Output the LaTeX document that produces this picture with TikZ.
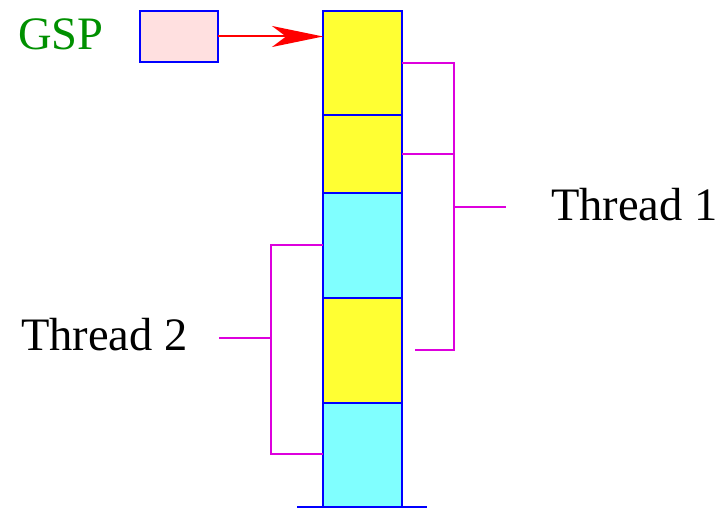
\documentclass[tikz,border=0pt]{standalone}
\usepackage{fontspec}
\setmainfont{Liberation Serif}
\usetikzlibrary{arrows.meta}
\definecolor{yel}{RGB}{255,255,51}
\definecolor{cya}{RGB}{128,255,255}
\definecolor{pnk}{RGB}{255,224,224}
\definecolor{mag}{RGB}{221,0,221}
\definecolor{grn}{RGB}{0,144,0}
\tikzset{
  cell/.style={draw=blue, line width=2pt, minimum width=79pt, inner sep=0pt, outer sep=0pt},
  brk/.style={draw=mag, line width=2pt},
  lbl/.style={font=\fontsize{46.5}{50}\selectfont, inner sep=0pt, anchor=base west},
}
\begin{document}
\begin{tikzpicture}[x=1pt,y=-1pt]
\useasboundingbox (0,0) rectangle (723,519);
% stack cells
\node[cell, fill=yel, minimum height=104pt, anchor=north west] (c1) at (323,11) {};
\node[cell, fill=yel, minimum height=78pt, anchor=north west] (c2) at (c1.south west) {};
\node[cell, fill=cya, minimum height=105pt, anchor=north west] (c3) at (c2.south west) {};
\node[cell, fill=yel, minimum height=105pt, anchor=north west] (c4) at (c3.south west) {};
\node[cell, fill=cya, minimum height=104pt, anchor=north west] (c5) at (c4.south west) {};
% base line
\coordinate (b1) at (297,507);
\coordinate (b2) at (427,507);
\draw[blue, line width=2pt] (b1) -- (b2);
% GSP
\node[cell, fill=pnk, minimum width=78pt, minimum height=51pt, anchor=north west] (gsp) at (140,11) {};
\node[lbl, text=grn] (gsplbl) at (18,50) {GSP};
\draw[red, line width=2pt, -{Stealth[length=51pt,width=21pt,inset=14pt]}] (gsp.east) -- (gsp.east -| c1.west);
% Thread 1 bracket
\coordinate (t1a) at (454,63);
\coordinate (t1b) at (454,154);
\coordinate (t1c) at (454,207);
\coordinate (t1d) at (454,350);
\coordinate (t1s) at (415,350);
\coordinate (t1e) at (506,207);
\draw[brk] (t1a -| c1.east) -- (t1a) -- (t1d) -- (t1s);
\draw[brk] (t1b -| c2.east) -- (t1b);
\draw[brk] (t1c) -- (t1e);
\node[lbl] (th1) at (551,220) {Thread 1};
% Thread 2 bracket
\coordinate (t2a) at (271,245);
\coordinate (t2b) at (271,454);
\coordinate (t2c) at (271,338);
\coordinate (t2e) at (219,338);
\draw[brk] (t2a -| c3.west) -- (t2a) -- (t2b) -- (t2b -| c5.west);
\draw[brk] (t2c) -- (t2e);
\node[lbl] (th2) at (21,350) {Thread 2};
\end{tikzpicture}
\end{document}
